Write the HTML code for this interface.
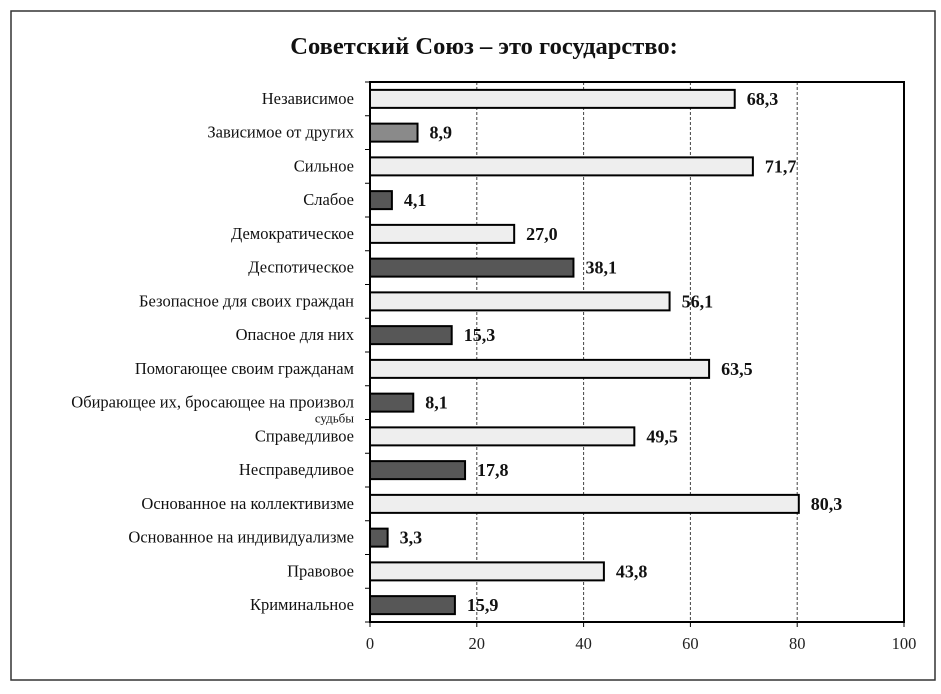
<!DOCTYPE html>
<html><head><meta charset="utf-8">
<style>
body{margin:0;background:#fff;}
svg{display:block;font-family:"Liberation Serif","Noto Serif CJK SC",serif;}
</style></head>
<body>
<svg width="941" height="694" viewBox="0 0 941 694">
<rect x="11" y="11" width="924" height="669" fill="#fff" stroke="#333" stroke-width="1.5"/>
<text x="484" y="54" text-anchor="middle" font-size="24.5" font-weight="bold" fill="#111">Советский Союз – это государство:</text>
<g id="plot"></g>
</svg>
<script>
const categories=["Независимое","Зависимое от других","Сильное","Слабое","Демократическое","Деспотическое","Безопасное для своих граждан","Опасное для них","Помогающее своим гражданам","Обирающее их, бросающее на произвол","Справедливое","Несправедливое","Основанное на коллективизме","Основанное на индивидуализме","Правовое","Криминальное"];
const values=[68.3,8.9,71.7,4.1,27.0,38.1,56.1,15.3,63.5,8.1,49.5,17.8,80.3,3.3,43.8,15.9];
const labels=["68,3","8,9","71,7","4,1","27,0","38,1","56,1","15,3","63,5","8,1","49,5","17,8","80,3","3,3","43,8","15,9"];
const shades=["light","mid","light","dark","light","dark","light","dark","light","dark","light","dark","light","dark","light","dark"];
const ticks=[0,20,40,60,80,100];
const NS="http://www.w3.org/2000/svg";
const g=document.getElementById('plot');
const X0=370,X1=904,Y0=82,Y1=622;
const x=v=>X0+(v/100)*(X1-X0);
const step=(Y1-Y0)/categories.length;
const yc=i=>Y0+step*(i+0.5);
const fills={light:"#eeeeee",mid:"#8a8a8a",dark:"#575757"};
function mk(t,a){const e=document.createElementNS(NS,t);for(const k in a)e.setAttribute(k,a[k]);g.appendChild(e);return e;}
ticks.forEach(t=>{
  if(t>0&&t<100){const l=mk('line',{x1:x(t),x2:x(t),y1:Y0,y2:Y1,stroke:'#444','stroke-dasharray':'3,2','stroke-width':1});
  
  }
  const tl=mk('text',{x:x(t),y:Y1+27,'text-anchor':'middle','font-size':16.5,fill:'#222'});tl.textContent=t;
  
  
  const tk=mk('line',{x1:x(t),x2:x(t),y1:Y1,y2:Y1+5,stroke:'#000'});
  
  
});
const fr=mk('rect',{x:X0,y:Y0,width:X1-X0,height:Y1-Y0,fill:'none',stroke:'#000','stroke-width':2});


for(let i=0;i<=categories.length;i++){const t=mk('line',{x1:X0-5,x2:X0,y1:Y0+step*i,y2:Y0+step*i,stroke:'#000'});

}
categories.forEach((c,i)=>{
  const cy=yc(i);
  const lb=mk('text',{x:354,y:cy+5,'text-anchor':'end','font-size':16.5,fill:'#111'});lb.textContent=c;
  
  
  if(i===9){const s=mk('text',{x:354,y:cy+20,'text-anchor':'end','font-size':13,fill:'#111'});s.textContent="судьбы";
  
  }
  const b=mk('rect',{x:X0,y:cy-9,width:x(values[i])-X0,height:18,fill:fills[shades[i]],stroke:'#000','stroke-width':2});
  
  
  const v=mk('text',{x:x(values[i])+12,y:cy+6,'font-size':18,'font-weight':'bold',fill:'#111'});v.textContent=labels[i];
  
  
});
</script>
</body></html>
